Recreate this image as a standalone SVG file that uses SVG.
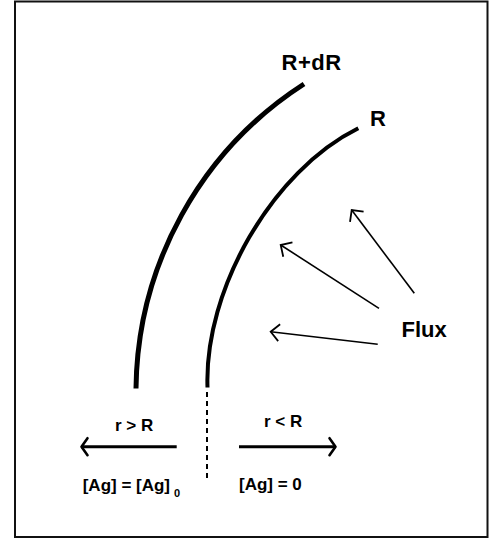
<svg xmlns="http://www.w3.org/2000/svg" width="495" height="539" viewBox="0 0 495 539">
  <style>
    .lbl { font-family: "Liberation Sans", Arial, sans-serif; font-weight: bold; fill: #000; }
    .big { font-size: 22px; }
    .small { font-size: 17px; }
    .sub { font-size: 11px; }
    .curve { fill: none; stroke: #000; }
    .flux { fill: none; stroke: #000; stroke-width: 1.6; }
    .dir { fill: none; stroke: #000; stroke-width: 3; }
  </style>
  <defs>
    <marker id="headThin" markerUnits="userSpaceOnUse" markerWidth="24" markerHeight="24" viewBox="-12 -12 24 24" refX="0" refY="0" orient="auto" overflow="visible">
      <path d="M-8.5,-8.5 L0,0 L-8.5,8.5" fill="none" stroke="#000" stroke-width="1.8" stroke-linejoin="miter"/>
    </marker>
    <marker id="headThick" markerUnits="userSpaceOnUse" markerWidth="24" markerHeight="24" viewBox="-12 -12 24 24" refX="0" refY="0" orient="auto" overflow="visible">
      <path d="M-6.5,-8.5 L-0.5,0 L-6.5,8.5" fill="none" stroke="#000" stroke-width="2.6" stroke-linejoin="round" stroke-linecap="round"/>
    </marker>
  </defs>
  <rect width="495" height="539" fill="#fff"/>
  <g id="frame">
    <rect x="15" y="1.5" width="472.5" height="535.5" fill="none" stroke="#111" stroke-width="2"/>
  </g>
  <g id="curve-outer">
    <path class="curve" d="M136,388.5 C137.4,265 200.5,150.6 304,84" stroke-width="5"/>
  </g>
  <g id="curve-inner">
    <path class="curve" d="M207.5,387.5 C204,290 272,171 358.3,128.3" stroke-width="4"/>
  </g>
  <g id="labels">
    <text class="lbl big" x="281.5" y="69.5" letter-spacing="0.5">R+dR</text>
    <text class="lbl big" x="370" y="125.5">R</text>
    <text class="lbl big" x="401.5" y="337">Flux</text>
    <text class="lbl small" x="115" y="430.7">r &gt; R</text>
    <text class="lbl small" x="264" y="426.7">r &lt; R</text>
    <text class="lbl small" x="82.7" y="490.7">[Ag] = [Ag]<tspan class="sub" x="174" y="496.5">0</tspan></text>
    <text class="lbl small" x="239" y="490">[Ag] = 0</text>
  </g>
  <g id="connectors">
    <line x1="207" y1="392" x2="207" y2="480" stroke="#000" stroke-width="2" stroke-dasharray="5 4"/>
    <line class="dir" x1="176.7" y1="446.7" x2="81" y2="446.7" marker-end="url(#headThick)"/>
    <line class="dir" x1="239" y1="446.7" x2="336" y2="446.7" marker-end="url(#headThick)"/>
    <line class="flux" x1="414.3" y1="293.3" x2="351.7" y2="210" marker-end="url(#headThin)"/>
    <line class="flux" x1="379" y1="308.3" x2="280.7" y2="245" marker-end="url(#headThin)"/>
    <line class="flux" x1="377.7" y1="344.3" x2="270.7" y2="331.7" marker-end="url(#headThin)"/>
  </g>
</svg>
